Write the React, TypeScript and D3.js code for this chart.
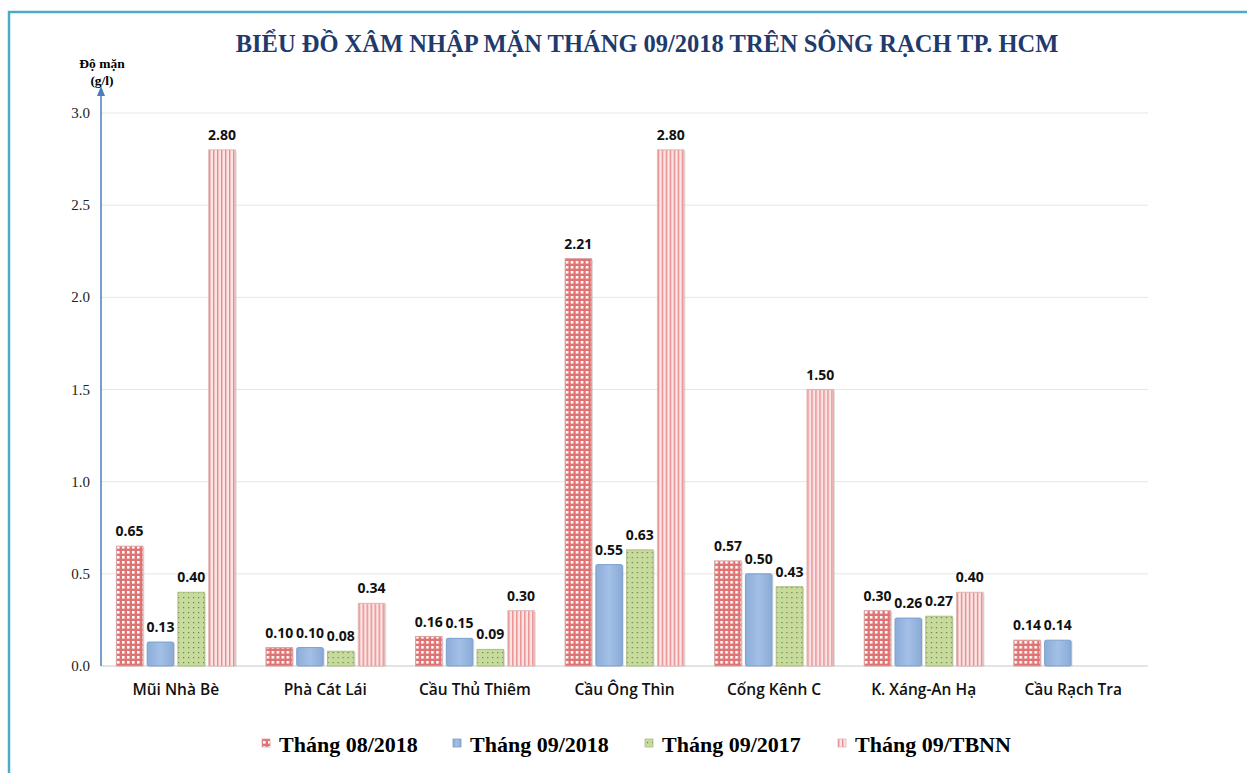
import React from "react";
import * as d3 from "d3";

// values
const stations = ["Mũi Nhà Bè", "Phà Cát Lái", "Cầu Thủ Thiêm", "Cầu Ông Thìn", "Cống Kênh C", "K. Xáng-An Hạ", "Cầu Rạch Tra"];
const seriesNames = ["Tháng 08/2018", "Tháng 09/2018", "Tháng 09/2017", "Tháng 09/TBNN"];
const thang082018 = [0.65, 0.1, 0.16, 2.21, 0.57, 0.3, 0.14];
const thang092018 = [0.13, 0.1, 0.15, 0.55, 0.5, 0.26, 0.14];
const thang092017 = [0.4, 0.08, 0.09, 0.63, 0.43, 0.27, null];
const thang09tbnn = [2.8, 0.34, 0.3, 2.8, 1.5, 0.4, null];
const yTicks = [0, 0.5, 1.0, 1.5, 2.0, 2.5, 3.0];

const seriesValues = [thang082018, thang092018, thang092017, thang09tbnn];
const fills = ["url(#pCheck)", "url(#gBlue)", "url(#pDots)", "url(#pStripe)"];
const strokes = ["#d9a3a3", "#7b9fcf", "#a9bf7f", "#e3b3b3"];

const W = 1247, H = 773;
const margin = { left: 101, right: 99, top: 113, bottom: 107 };

export default function App() {
  const x0 = d3.scaleBand<string>().domain(stations).range([margin.left, W - margin.right]).paddingInner(0).paddingOuter(0);
  const x1 = d3.scaleBand<string>().domain(seriesNames).range([0, x0.bandwidth()]).paddingInner(0.14).paddingOuter(0.5);
  const y = d3.scaleLinear().domain([0, 3]).range([H - margin.bottom, margin.top]);

  const legendX = [262, 453, 645, 838];

  return (
    <svg width={W} height={H} style={{ position: "absolute", left: 0, top: 0, background: "#fff" }}>
      <defs>
        <pattern id="pCheck" width="5" height="5" patternUnits="userSpaceOnUse">
          <rect width="5" height="5" fill="#df7272" />
          <rect x="1" y="1" width="2.6" height="2.6" fill="#fff" />
        </pattern>
        <linearGradient id="gBlue" x1="0" y1="0" x2="1" y2="0">
          <stop offset="0" stopColor="#8cadd9" />
          <stop offset="0.5" stopColor="#a3c0e6" />
          <stop offset="1" stopColor="#8aabd6" />
        </linearGradient>
        <pattern id="pDots" width="5" height="5" patternUnits="userSpaceOnUse">
          <rect width="5" height="5" fill="#c6db9c" />
          <rect x="2" y="2" width="1.2" height="1.2" fill="#6b7d48" />
        </pattern>
        <pattern id="pStripe" width="4" height="4" patternUnits="userSpaceOnUse">
          <rect width="4" height="4" fill="#fbe5e5" />
          <rect x="0" width="1.4" height="4" fill="#e68a8a" />
        </pattern>
      </defs>

      {/* outer frame */}
      <rect x={9} y={12} width={W + 20} height={H + 20} fill="none" stroke="#4bacc6" strokeWidth={2.5} />

      <text x={647} y={52} textAnchor="middle" fontFamily="Liberation Serif, Times New Roman, serif" fontWeight="bold" fontSize={24.5} fill="#1f3b6e">
        BIỂU ĐỒ XÂM NHẬP MẶN THÁNG 09/2018 TRÊN SÔNG RẠCH TP. HCM
      </text>

      <text x={102} y={68} textAnchor="middle" fontFamily="Liberation Serif, serif" fontWeight="bold" fontSize={13.5}>Độ mặn</text>
      <text x={102} y={85} textAnchor="middle" fontFamily="Liberation Serif, serif" fontWeight="bold" fontSize={13.5}>(g/l)</text>

      {/* gridlines and tick labels */}
      {yTicks.map((t) => (
        <g key={t}>
          <line x1={margin.left} x2={W - margin.right} y1={y(t)} y2={y(t)} stroke={t === 0 ? "#c8c8c8" : "#e6e6e6"} strokeWidth={1} />
          <text x={90} y={y(t) + 5} textAnchor="end" fontFamily="Liberation Serif, serif" fontSize={15} fill="#222">
            {t.toFixed(1)}
          </text>
        </g>
      ))}

      {/* bars */}
      {stations.map((s, i) => (
        <g key={s} transform={`translate(${x0(s)},0)`}>
          {seriesNames.map((name, k) => {
            const v = seriesValues[k][i];
            if (v == null) return null;
            const bx = x1(name)!;
            const bw = x1.bandwidth();
            return (
              <g key={name}>
                <rect x={bx + 1.5} y={y(v) + 1} width={bw} height={y(0) - y(v) - 1} fill="#000" opacity={0.12} />
                <rect x={bx} y={y(v)} width={bw} height={y(0) - y(v)} fill={fills[k]} stroke={strokes[k]} strokeWidth={1} rx={k === 1 ? 1.5 : 0} />
                <text x={bx + bw / 2} y={y(v) - 10} textAnchor="middle" fontFamily="Open Sans, sans-serif" fontWeight="bold" fontSize={14} fill="#111">
                  {v.toFixed(2)}
                </text>
              </g>
            );
          })}
          <text x={x0.bandwidth() / 2} y={695} textAnchor="middle" fontFamily="Open Sans, sans-serif" fontWeight="600" fontSize={15.5} fill="#111">
            {s}
          </text>
        </g>
      ))}

      {/* y axis arrow */}
      <line x1={margin.left} x2={margin.left} y1={y(0)} y2={94} stroke="#4a7ebb" strokeWidth={1.5} />
      <path d={`M${margin.left - 4},${96} L${margin.left},${86} L${margin.left + 4},${96} Z`} fill="#4a7ebb" />

      {/* legend */}
      {seriesNames.map((name, k) => (
        <g key={name} transform={`translate(${legendX[k]},0)`}>
          <rect x={0} y={739} width={8} height={8} fill={fills[k]} stroke={strokes[k]} strokeWidth={0.8} />
          <text x={17} y={752} fontFamily="Liberation Serif, Times New Roman, serif" fontWeight="bold" fontSize={22} fill="#000">
            {name}
          </text>
        </g>
      ))}
    </svg>
  );
}
